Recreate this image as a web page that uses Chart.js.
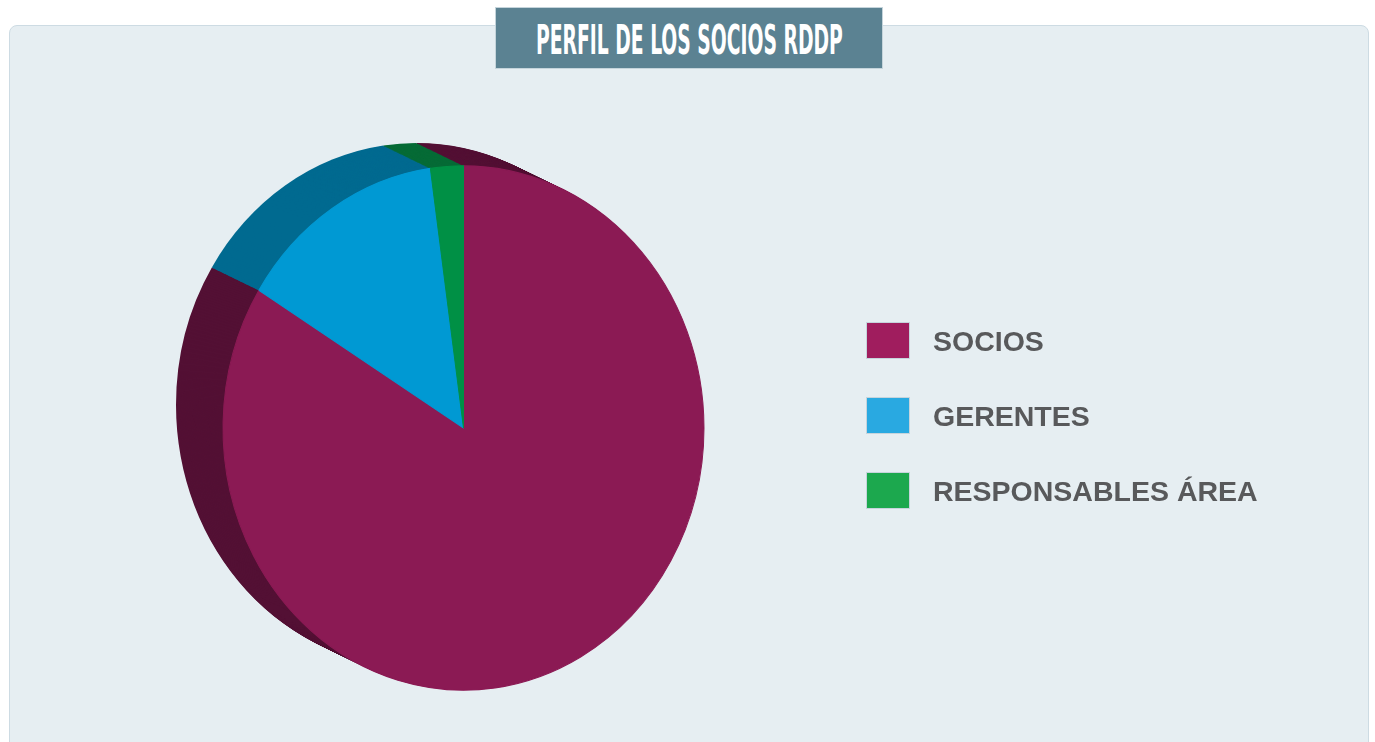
<!DOCTYPE html>
<html>
<head>
<meta charset="utf-8">
<script src="https://cdn.jsdelivr.net/npm/chart.js@4/dist/chart.umd.min.js"></script>
<style>
  html, body { margin: 0; padding: 0; background: #fff; width: 1375px; height: 742px; overflow: hidden; }
  #panel {
    position: absolute; left: 9px; top: 25px; width: 1358px; height: 740px;
    background: #e6eef2; border: 1px solid #cddbe3; border-radius: 8px;
  }
  #title {
    position: absolute; left: 495px; top: 7px; width: 386px; height: 60px;
    background: #5b8292; border: 1px solid #c5d4db;
    display: flex; align-items: center; justify-content: center; overflow: hidden;
  }
  #title span {
    display: inline-block; color: #fff; font-family: "DejaVu Sans Condensed", "Liberation Sans Narrow", sans-serif;
    font-weight: bold; font-size: 40px; line-height: 1; white-space: nowrap; transform-origin: center;
    position: relative; top: 2px;
  }
  #chartWrap { position: absolute; left: 0; top: 0; width: 900px; height: 742px; }
  #legend { position: absolute; left: 866px; top: 322px; }
  .item { display: flex; align-items: center; height: 37px; margin-bottom: 38px; }
  .box { width: 42px; height: 35px; border: 1px solid #c6d4dc; margin-right: 23px; }
  .lbl { font-family: "Liberation Sans", Arial, sans-serif; font-weight: bold; font-size: 28.5px; color: #58595b; position: relative; top: 1px; }
</style>
</head>
<body>
<div id="panel"></div>
<div id="title"><span id="titleText">PERFIL DE LOS SOCIOS RDDP</span></div>
<div id="chartWrap"><canvas id="chart" width="900" height="742"></canvas></div>
<div id="legend"></div>
<script>
const labels = ["SOCIOS", "GERENTES", "RESPONSABLES ÁREA"];
const values = [83.8, 14.0, 2.2];
const faceColors = ["#8b1a54", "#0099d3", "#009045"];
const sideColors = ["#531034", "#006a90", "#066b36"];
const legendColors = ["#a01d5e", "#29a9e1", "#1ca84e"];

// squeeze the title to the condensed width
const t = document.getElementById("titleText");
t.style.transform = `scaleX(${307 / t.offsetWidth})`;

// html legend built from the same arrays
document.getElementById("legend").innerHTML = labels
  .map((l, i) => `<div class="item"><div class="box" style="background:${legendColors[i]}"></div><span class="lbl">${l}</span></div>`)
  .join("");

const yStretch = 1.09;
const depthX = -47, depthY = -21, steps = 50;

// tilts the pie a bit and draws the dark side below the face
const pie3d = {
  id: "pie3d",
  beforeDatasetsDraw(chart) {
    const ctx = chart.ctx;
    const meta = chart.getDatasetMeta(0);
    const cx = meta.data[0].x, cy = meta.data[0].y;
    ctx.save();
    ctx.translate(cx, cy);
    ctx.scale(1, yStretch);
    ctx.translate(-cx, -cy);
    for (let s = steps; s > 0; s--) {
      const dx = (depthX * s) / steps, dy = (depthY * s) / steps;
      meta.data.forEach((arc, i) => {
        const p = arc.getProps(["x", "y", "startAngle", "endAngle", "outerRadius"], true);
        ctx.beginPath();
        ctx.moveTo(p.x + dx, p.y + dy);
        ctx.arc(p.x + dx, p.y + dy, p.outerRadius, p.startAngle, p.endAngle);
        ctx.closePath();
        ctx.fillStyle = sideColors[i];
        ctx.fill();
      });
    }
  },
  afterDatasetsDraw(chart) {
    chart.ctx.restore();
  },
};

new Chart(document.getElementById("chart").getContext("2d"), {
  type: "pie",
  data: {
    labels: labels,
    datasets: [
      {
        data: values,
        backgroundColor: faceColors,
        borderColor: faceColors,
        borderWidth: 1,
      },
    ],
  },
  options: {
    responsive: false,
    animation: false,
    layout: { padding: { left: 222, right: 195, top: 187, bottom: 73 } },
    plugins: {
      legend: { display: false },
      tooltip: { enabled: false },
    },
  },
  plugins: [pie3d],
});
</script>
</body>
</html>
